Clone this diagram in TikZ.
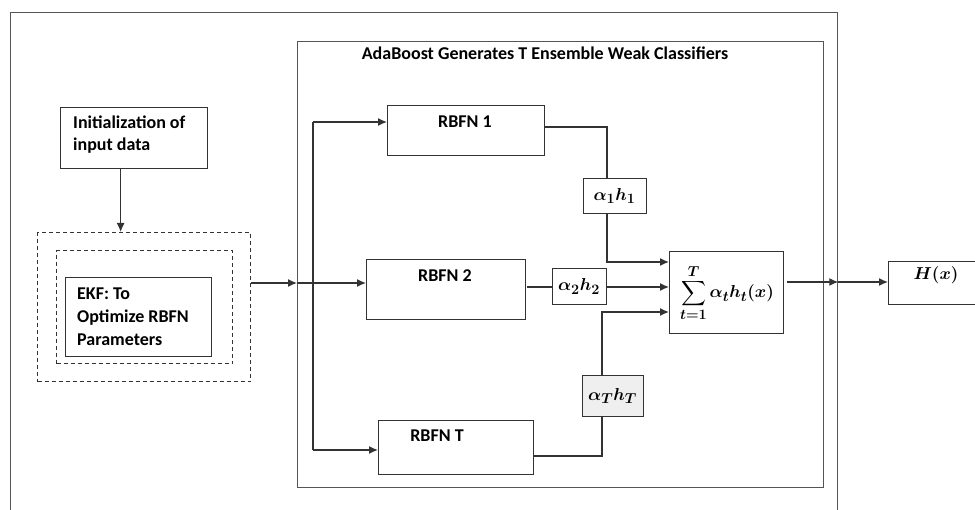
\documentclass[tikz,border=0pt]{standalone}
\usepackage{amsmath,bm}
\usepackage{fontspec}
\setmainfont{Carlito}
\usetikzlibrary{arrows.meta}
\definecolor{ln}{HTML}{333333}
\definecolor{frm}{HTML}{555555}
\definecolor{shade}{HTML}{EFEFEF}
\tikzset{
  box/.style={draw=ln, line width=1.3pt, inner sep=0pt, anchor=north west},
  dbox/.style={box, dash pattern=on 4pt off 3pt},
  lab/.style={font=\fontsize{18}{22}\selectfont\bfseries, inner sep=0pt, text=black},
  mlab/.style={font=\fontsize{19}{22}\selectfont, inner sep=0pt, text=black},
  con/.style={draw=ln, line width=1.3pt},
  arr/.style={con, -{Latex[length=9pt,width=8pt]}},
}
\begin{document}
\begin{tikzpicture}[x=1pt,y=-1pt]
\path[use as bounding box] (0,0) rectangle (975,510);
\clip (0,0) rectangle (975,510);
% frames
\node[box, draw=frm, minimum width=827pt, minimum height=540pt] (frame) at (10,12) {};
\node[box, draw=frm, minimum width=526pt, minimum height=446pt] (ada) at (297,41) {};
\node[lab] (title) at (545,53) {AdaBoost Generates T Ensemble Weak Classifiers};
% left part
\node[box, minimum width=147pt, minimum height=61pt] (init) at (60,107) {};
\node[lab, anchor=west, align=left] (inittxt) at (73,135) {Initialization of\\input data};
\node[dbox, minimum width=213pt, minimum height=149pt] (dout) at (37,232) {};
\node[dbox, minimum width=176pt, minimum height=113pt] (din) at (56,250) {};
\node[box, minimum width=146pt, minimum height=79pt] (ekf) at (65,277) {};
\node[lab, anchor=west, align=left, font=\fontsize{18}{23}\selectfont\bfseries] (ekftxt) at (77,317) {EKF: To\\Optimize RBFN\\Parameters};
% RBFNs
\node[box, minimum width=157pt, minimum height=50pt] (r1) at (387,105) {};
\node[lab] (r1t) at (465,122) {RBFN 1};
\node[box, minimum width=159pt, minimum height=60pt] (r2) at (366,259) {};
\node[lab] (r2t) at (445,276) {RBFN 2};
\node[box, minimum width=155pt, minimum height=54pt] (rT) at (378,420) {};
\node[lab] (rTt) at (437,436) {RBFN T};
% weights
\node[box, minimum width=63pt, minimum height=35pt] (a1) at (583,178) {};
\node[mlab] (a1t) at (614.5,196) {$\bm{\alpha_1 h_1}$};
\node[box, minimum width=54pt, minimum height=36pt] (a2) at (552,268) {};
\node[mlab] (a2t) at (579,286.5) {$\bm{\alpha_2 h_2}$};
\node[box, fill=shade, minimum width=61pt, minimum height=41pt] (aT) at (582,375) {};
\node[mlab] (aTt) at (612.5,396) {$\bm{\alpha_T h_T}$};
% sum and output
\node[box, minimum width=114pt, minimum height=82pt] (sum) at (669,251) {};
\node[mlab] (sumt) at (727,293) {$\displaystyle\sum_{\bm{t=1}}^{\bm{T}}\bm{\alpha_t h_t(x)}$};
\node[box, minimum width=100pt, minimum height=43pt] (H) at (888,261) {};
\node[mlab] (Ht) at (936,275) {$\bm{H(x)}$};
% connectors
\draw[arr] ([xshift=-13.5pt]init.south) -- ([xshift=-13.5pt]init.south |- dout.north);
\coordinate (split) at (313,283);
\coordinate (sTop) at (313,122);
\coordinate (sBot) at (313,450);
\draw[arr] (dout.east |- split) -- (ada.west |- split);
\draw[con] (ada.west |- split) -- (split);
\draw[con] (sTop) -- (sBot);
\draw[arr] (sTop) -- (r1.west |- sTop);
\draw[arr] (split) -- (r2.west |- split);
\draw[arr] (sBot) -- (rT.west |- sBot);
% branch 1
\coordinate (k1) at (607,127);
\coordinate (k1b) at (607,262);
\draw[con] (r1.east |- k1) -- (k1) -- (k1 |- a1.north);
\draw[arr] (k1 |- a1.south) -- (k1b) -- (sum.west |- k1b);
% branch 2
\coordinate (k2) at (527,287);
\draw[con] (k2) -- (a2.west |- k2);
\draw[arr] (a2.east |- k2) -- (sum.west |- k2);
% branch T
\coordinate (kT) at (602,456);
\coordinate (kTb) at (602,312);
\draw[con] (rT.east |- kT) -- (kT) -- (kT |- aT.south);
\draw[arr] (kT |- aT.north) -- (kTb) -- (sum.west |- kTb);
% output
\coordinate (ko) at (787,282);
\draw[arr] (ko) -- (frame.east |- ko);
\draw[arr] (frame.east |- ko) -- (H.west |- ko);
\end{tikzpicture}
\end{document}
